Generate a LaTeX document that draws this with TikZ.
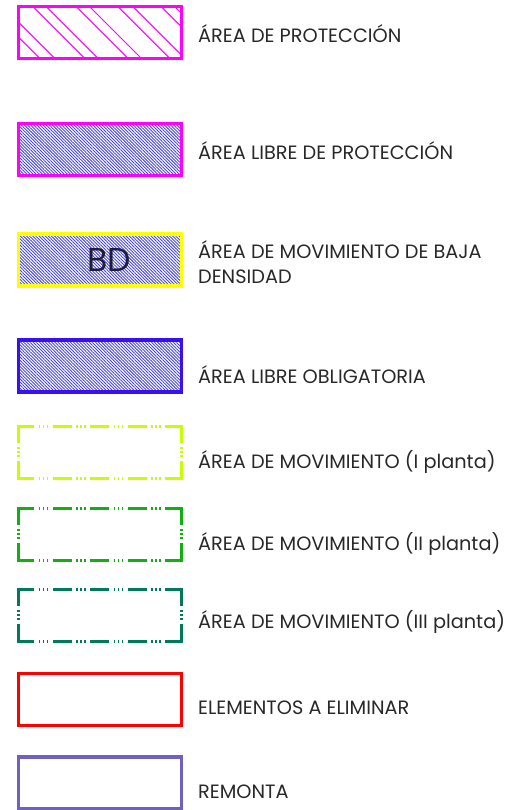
\documentclass[tikz,border=0pt]{standalone}
\usepackage{xcolor}
\usepackage{fontspec}
\setmainfont{Poppins}
\usepackage{tikz}
\usetikzlibrary{patterns.meta}

\definecolor{hatchmag}{RGB}{255,0,255}
\definecolor{hatchblue}{RGB}{70,70,230}
\definecolor{bdyellow}{RGB}{255,255,0}
\definecolor{oblblue}{RGB}{58,16,240}
\definecolor{mlime}{RGB}{200,255,0}
\definecolor{mgreen}{RGB}{16,176,16}
\definecolor{mteal}{RGB}{0,122,90}
\definecolor{elimred}{RGB}{255,0,0}
\definecolor{remontapurple}{RGB}{112,96,192}
\definecolor{labelgray}{RGB}{40,40,40}
\definecolor{bdnavy}{RGB}{30,30,60}

\begin{document}
\begin{tikzpicture}[
    x=1pt, y=-1pt,
    keyshape/.style={rectangle, minimum width=163pt, minimum height=52pt, inner sep=0pt},
    keybox/.style={keyshape, draw, line width=3.3pt},
    densehatch/.style={pattern={Lines[angle=-45, distance=2.2pt, line width=0.9pt]}, pattern color=hatchblue},
    movedash/.style={line width=3pt, dash pattern=on 19pt off 4.5pt on 1.5pt off 2.5pt on 1.5pt off 2.5pt on 1.5pt off 4.5pt},
    keylabel/.style={anchor=base west, inner sep=0pt, text=labelgray, align=left, font=\fontsize{19.3}{25}\selectfont}
]
\useasboundingbox (0,0) rectangle (509,810);

\begin{scope}
\clip (18.5,6.5) rectangle (181.5,58.5);
\foreach \c in {-18.7,-3.7,26.3,39.7,69.7,83,111.3,126.3,154.7,168}
    \draw[hatchmag, line width=1pt] (\c,0) -- ++(70,70);
\end{scope}
\node[keybox, draw=hatchmag] (proteccion) at (100,32.5) {};
\node[keylabel] (proteccionlbl) at (198,43) {ÁREA DE PROTECCIÓN};

\node[keybox, draw=hatchmag, densehatch] (libreprot) at (100,149.5) {};
\node[keylabel] (libreprotlbl) at (198,160) {ÁREA LIBRE DE PROTECCIÓN};

\node[keybox, draw=bdyellow, densehatch] (bajadens) at (100,260) {};
\node[text=bdnavy, inner sep=0pt, font=\fontsize{33}{33}\selectfont] (bd) at (109,260) {BD};
\node[keylabel] (bajadenslbl) at (198,283) {ÁREA DE MOVIMIENTO DE BAJA\\DENSIDAD};

\node[keybox, draw=oblblue, densehatch] (obligatoria) at (100,366) {};
\node[keylabel] (obligatorialbl) at (198,383) {ÁREA LIBRE OBLIGATORIA};

\node[keyshape] (movi) at (100,452.5) {};
\draw[movedash, mlime, dash phase=1.5pt] ([xshift=-1.5pt]movi.north west) -- ([xshift=1.5pt]movi.north east);
\draw[movedash, mlime, dash phase=1.5pt] ([xshift=-1.5pt]movi.south west) -- ([xshift=1.5pt]movi.south east);
\draw[movedash, mlime, dash phase=2.5pt] (movi.north west) -- (movi.south west);
\draw[movedash, mlime, dash phase=2.5pt] (movi.north east) -- (movi.south east);
\node[keylabel] (movilbl) at (198,468) {ÁREA DE MOVIMIENTO (I planta)};

\node[keyshape] (movii) at (100,534.5) {};
\draw[movedash, mgreen, dash phase=1.5pt] ([xshift=-1.5pt]movii.north west) -- ([xshift=1.5pt]movii.north east);
\draw[movedash, mgreen, dash phase=1.5pt] ([xshift=-1.5pt]movii.south west) -- ([xshift=1.5pt]movii.south east);
\draw[movedash, mgreen, dash phase=2.5pt] (movii.north west) -- (movii.south west);
\draw[movedash, mgreen, dash phase=2.5pt] (movii.north east) -- (movii.south east);
\node[keylabel] (moviilbl) at (198,550) {ÁREA DE MOVIMIENTO (II planta)};

\node[keyshape] (moviii) at (100,615.5) {};
\draw[movedash, mteal, dash phase=1.5pt] ([xshift=-1.5pt]moviii.north west) -- ([xshift=1.5pt]moviii.north east);
\draw[movedash, mteal, dash phase=1.5pt] ([xshift=-1.5pt]moviii.south west) -- ([xshift=1.5pt]moviii.south east);
\draw[movedash, mteal, dash phase=2.5pt] (moviii.north west) -- (moviii.south west);
\draw[movedash, mteal, dash phase=2.5pt] (moviii.north east) -- (moviii.south east);
\node[keylabel] (moviiilbl) at (198,628) {ÁREA DE MOVIMIENTO (III planta)};

\node[keybox, draw=elimred] (eliminar) at (100,699.5) {};
\node[keylabel] (eliminarlbl) at (198,714) {ELEMENTOS A ELIMINAR};

\node[keybox, draw=remontapurple, line width=3.5pt] (remonta) at (100,783) {};
\node[keylabel] (remontalbl) at (198,798) {REMONTA};

\end{tikzpicture}
\end{document}
